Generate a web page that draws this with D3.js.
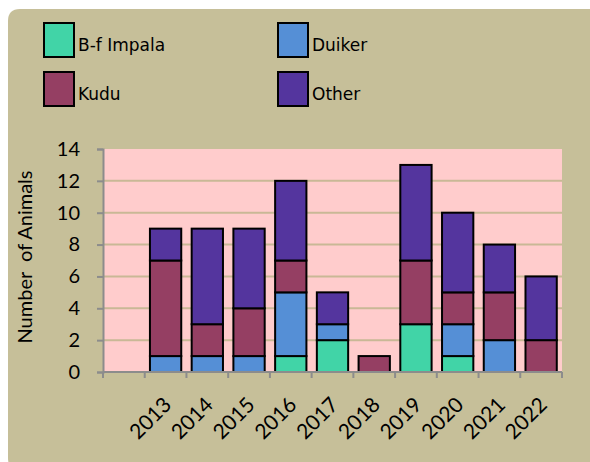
<!DOCTYPE html>
<html><head><meta charset="utf-8">
<script src="https://cdn.jsdelivr.net/npm/d3@7"></script>
<style>body{margin:0;background:#fff}</style>
</head><body>
<svg id="c" width="590" height="462"></svg>
<script>
const categories = ["", "2013","2014","2015","2016","2017","2018","2019","2020","2021","2022"];
const impala = [0, 0,0,0,1,2,0,3,1,0,0];
const duiker = [0, 1,1,1,4,1,0,0,2,2,0];
const kudu   = [0, 6,2,3,2,0,1,4,2,3,2];
const other  = [0, 2,6,5,5,2,0,6,5,3,4];
const seriesNames = ["B-f Impala","Duiker","Kudu","Other"];
const seriesColors = ["#41d4a7","#558fd6","#953f63","#54359e"];
const yTicks = [0,2,4,6,8,10,12,14];

const svg = d3.select("#c");
svg.append("path")
  .attr("d", "M8,21 Q8,9 20,9 L600,9 L600,470 L20,470 Q8,470 8,458 Z")
  .attr("fill", "#c6bf99");

const L = 103, R = 562, T = 149, B = 372;
const x = d3.scaleBand().domain(categories.map((c,i)=>i)).range([L,R]).paddingInner(0.25).paddingOuter(0.125);
const y = d3.scaleLinear().domain([0,14]).range([B,T]);

svg.append("rect").attr("x",L).attr("y",T).attr("width",R-L).attr("height",B-T).attr("fill","#ffcccc");

svg.append("g").selectAll("line").data(yTicks.filter(d=>d>0 && d<14)).join("line")
  .attr("x1",L).attr("x2",R).attr("y1",d=>y(d)).attr("y2",d=>y(d))
  .attr("stroke","#c9b896").attr("stroke-width",2);

const rows = categories.map((c,i)=>({i, impala:impala[i], duiker:duiker[i], kudu:kudu[i], other:other[i]}));
const keys = ["impala","duiker","kudu","other"];
const stack = d3.stack().keys(keys)(rows);
stack.forEach((s,k)=>{
  svg.append("g").selectAll("rect").data(s.filter(d=>d[1]-d[0]>0)).join("rect")
    .attr("x",d=>x(d.data.i)).attr("width",x.bandwidth())
    .attr("y",d=>y(d[1])).attr("height",d=>y(d[0])-y(d[1]))
    .attr("fill",seriesColors[k]).attr("stroke","#000").attr("stroke-width",2);
});

// axes
const gy = svg.append("g").attr("transform",`translate(${L},0)`)
  .call(d3.axisLeft(y).tickValues(yTicks).tickSize(6).tickPadding(17));
gy.select(".domain").attr("stroke","#8c8c8c").attr("stroke-width",2);
gy.selectAll(".tick line").attr("stroke","#8c8c8c").attr("stroke-width",2);
gy.selectAll("text").attr("font-family","Lato, 'Open Sans', sans-serif").attr("font-size",20).attr("fill","#000");

const step = x.step();
const tickPos = d3.range(categories.length+1).map(i=>L + i*step);
svg.append("line").attr("x1",L).attr("x2",R).attr("y1",B).attr("y2",B).attr("stroke","#8c8c8c").attr("stroke-width",2);
svg.append("g").selectAll("line").data(tickPos).join("line")
  .attr("x1",d=>d).attr("x2",d=>d).attr("y1",B).attr("y2",B+6).attr("stroke","#8c8c8c").attr("stroke-width",2);

svg.append("g").selectAll("text").data(categories.map((c,i)=>({c,i})).filter(d=>d.c)).join("text")
  .attr("transform",d=>`translate(${x(d.i)+x.bandwidth()/2-4},${B+23}) rotate(-45)`)
  .attr("text-anchor","end").attr("dy","0.75em")
  .attr("font-family","Lato, 'Open Sans', sans-serif").attr("font-size",21).attr("fill","#000")
  .text(d=>d.c);

svg.append("text").attr("transform","translate(32,257) rotate(-90)")
  .attr("text-anchor","middle").attr("font-family","Lato, 'Open Sans', sans-serif").attr("font-size",20)
  .attr("fill","#000").attr("xml:space","preserve").text("Number  of Animals");

// legend
const legPos = [[44,23],[278,23],[44,72],[278,72]];
const lg = svg.append("g").selectAll("g").data(seriesNames.map((n,k)=>({n,k}))).join("g")
  .attr("transform",d=>`translate(${legPos[d.k][0]},${legPos[d.k][1]})`);
lg.append("rect").attr("x",0).attr("y",0).attr("width",30).attr("height",34)
  .attr("fill",d=>seriesColors[d.k]).attr("stroke","#000").attr("stroke-width",2);
lg.append("text").attr("x",34).attr("y",28).attr("font-family","'DejaVu Sans', sans-serif").attr("font-size",17)
  .attr("fill","#000").text(d=>d.n);
</script>
</body></html>
